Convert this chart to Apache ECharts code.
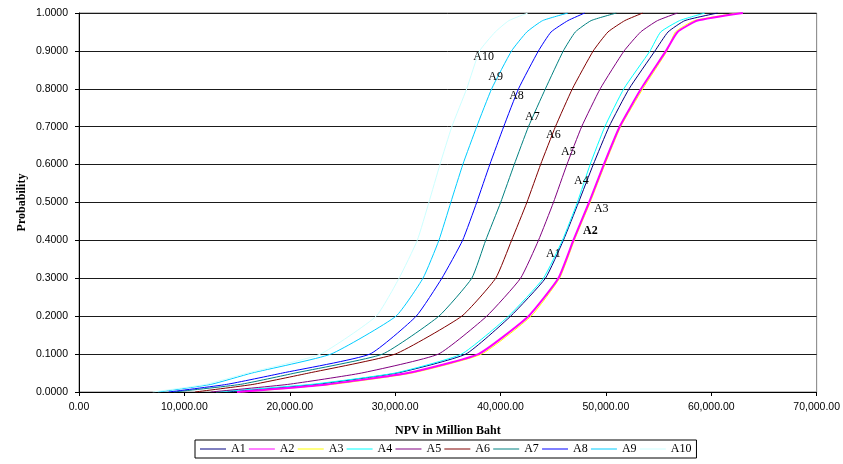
<!DOCTYPE html>
<html>
<head>
<meta charset="utf-8">
<script src="https://cdn.jsdelivr.net/npm/echarts@6/dist/echarts.min.js"></script>
<style>
  html, body { margin: 0; padding: 0; background: #fff; }
  #chart-container { width: 843px; height: 464px; }
</style>
</head>
<body>
<div id="chart-container"></div>
<script>
// cumulative probability levels shared by every curve
var probLevels = [0, 0.02, 0.05, 0.1, 0.2, 0.3, 0.4, 0.5, 0.6, 0.7, 0.8, 0.9, 0.95, 0.98, 1];

// NPV (million Baht) reached at each probability level
var npvA1  = [14000, 22500, 30200, 36700, 40960, 44260, 45960, 47400, 48800, 50300, 52200, 54660, 55900, 57500, 60600];
var npvA2  = [15000, 23500, 31200, 37900, 42660, 45490, 46910, 48400, 49800, 51300, 53340, 55700, 56800, 58700, 63000];
var npvA3  = [15500, 24000, 31600, 38200, 42900, 45600, 47000, 48500, 49900, 51400, 53500, 55800, 56600, 58400, 62500];
var npvA4  = [13000, 22000, 30000, 36300, 40760, 44070, 45870, 47290, 48500, 49900, 51700, 54190, 55200, 57000, 59400];
var npvA5  = [12500, 19800, 26800, 34100, 38690, 41900, 43600, 45020, 46300, 47700, 49460, 51730, 53300, 54900, 56800];
var npvA6  = [11000, 16500, 21800, 30000, 36320, 39540, 41050, 42500, 43800, 45210, 46820, 48800, 50200, 51800, 53500];
var npvA7  = [9000, 15300, 20500, 28800, 34150, 37270, 38590, 40010, 41300, 42650, 44260, 45960, 47100, 48600, 51000];
var npvA8  = [8500, 14000, 19300, 27600, 32000, 34430, 36400, 37740, 38980, 40300, 41710, 43600, 44800, 46400, 48000];
var npvA9  = [7500, 12500, 16400, 23900, 30080, 32640, 34150, 35280, 36420, 37740, 39160, 41050, 42500, 44000, 46400];
var npvA10 = [7000, 12000, 16000, 22900, 28200, 30370, 32100, 33200, 34250, 35380, 36790, 38020, 39500, 40800, 42600];

var seriesNames = ['A1', 'A2', 'A3', 'A4', 'A5', 'A6', 'A7', 'A8', 'A9', 'A10'];
var seriesValues = [npvA1, npvA2, npvA3, npvA4, npvA5, npvA6, npvA7, npvA8, npvA9, npvA10];
var seriesColors = ['#000080', '#ff00ff', '#ffff00', '#00ffff', '#800080', '#800000', '#008080', '#0000ff', '#00ccff', '#ccffff'];

// curve label anchor points, [NPV, probability]
var labelPoints = [
  [45020, 0.364], [48520, 0.425], [49560, 0.483], [47670, 0.557], [46440, 0.634],
  [45020, 0.679], [43030, 0.726], [41520, 0.782], [39540, 0.832], [38400, 0.885]
];

var xTicks = { min: 0, max: 70000, interval: 10000 };
var yTicks = { min: 0, max: 1, interval: 0.1 };

var dom = document.getElementById('chart-container');
var myChart = echarts.init(dom, null, { renderer: 'canvas' });

var series = seriesNames.map(function (name, i) {
  return {
    name: name,
    type: 'line',
    symbol: 'none',
    smooth: 0.15,
    data: probLevels.map(function (p, j) { return [seriesValues[i][j], p]; }),
    lineStyle: { color: seriesColors[i], width: name === 'A2' ? 2 : 1 },
    itemStyle: { color: seriesColors[i] },
    z: name === 'A2' ? 3 : 2,
    markPoint: {
      symbol: 'rect',
      symbolSize: 1,
      itemStyle: { color: 'rgba(0,0,0,0)' },
      label: {
        show: true,
        position: 'inside',
        formatter: name,
        color: '#000',
        fontFamily: 'Liberation Serif',
        fontSize: 12,
        fontWeight: name === 'A2' ? 'bold' : 'normal'
      },
      data: [{ coord: labelPoints[i] }]
    }
  };
});

var option = {
  animation: false,
  backgroundColor: '#fff',
  grid: {
    left: 79, right: 24, top: 13, bottom: 72,
    show: true, borderColor: '#808080', borderWidth: 1
  },
  legend: {
    data: seriesNames,
    left: 195, top: 440,
    padding: [3, 5, 3, 5],
    icon: 'path://M0,0H26V1H0Z',
    itemWidth: 26, itemHeight: 14, itemGap: 3.2,
    borderColor: '#000', borderWidth: 1,
    textStyle: { fontFamily: 'Liberation Serif', fontSize: 12, color: '#000' }
  },
  xAxis: {
    type: 'value',
    min: xTicks.min, max: xTicks.max, interval: xTicks.interval,
    name: 'NPV in Million Baht',
    nameLocation: 'middle', nameGap: 33,
    nameTextStyle: { fontFamily: 'Liberation Serif', fontSize: 12, fontWeight: 'bold', color: '#000' },
    axisLine: { lineStyle: { color: '#000', width: 1 } },
    axisTick: { show: true, length: 4, lineStyle: { color: '#000' } },
    axisLabel: {
      margin: 10, color: '#000', fontFamily: 'Liberation Sans', fontSize: 10.5,
      formatter: function (v) { return v.toLocaleString('en-US', { minimumFractionDigits: 2, maximumFractionDigits: 2 }); }
    },
    splitLine: { show: false }
  },
  yAxis: {
    type: 'value',
    min: yTicks.min, max: yTicks.max, interval: yTicks.interval,
    name: 'Probability',
    nameLocation: 'middle', nameGap: 51,
    nameMoveOverlap: false,
    nameTextStyle: { fontFamily: 'Liberation Serif', fontSize: 12, fontWeight: 'bold', color: '#000' },
    axisLine: { show: true, lineStyle: { color: '#000', width: 1 } },
    axisTick: { show: true, length: 4, lineStyle: { color: '#000' } },
    axisLabel: {
      margin: 11, color: '#000', fontFamily: 'Liberation Sans', fontSize: 10.5,
      formatter: function (v) { return v.toFixed(4); }
    },
    splitLine: { show: true, lineStyle: { color: '#1a1a1a', width: 1 } }
  },
  series: series
};

myChart.setOption(option);
window.addEventListener('resize', myChart.resize);
</script>
</body>
</html>
